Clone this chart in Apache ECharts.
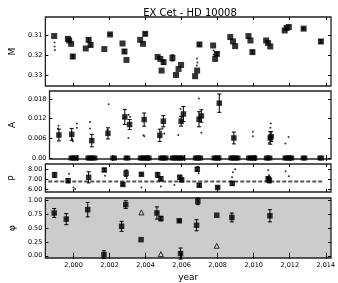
<!DOCTYPE html>
<html>
<head>
<meta charset="utf-8">
<script src="https://cdn.jsdelivr.net/npm/echarts@6/dist/echarts.min.js"></script>
<style>
  html, body { margin: 0; padding: 0; background: #fff; }
  #chart { width: 338px; height: 283px; }
</style>
</head>
<body>
<div id="chart"></div>
<script>
// --- M panel ---
const mYears = [1998.93, 1999.69, 1999.76, 1999.87, 1999.96, 2000.68, 2000.84, 2000.95, 2001.71, 2002.03,
  2002.72, 2002.83, 2002.94, 2003.70, 2003.86, 2003.98, 2004.67, 2004.82, 2004.89, 2005.00,
  2005.49, 2005.69, 2005.83, 2005.97, 2006.75, 2006.86, 2006.99, 2007.75, 2007.86, 2007.96,
  2008.70, 2008.85, 2008.97, 2009.71, 2009.82, 2009.93, 2010.69, 2010.80, 2010.92, 2011.72,
  2011.83, 2011.95, 2012.77, 2013.73];
const mVals = [0.3103, 0.3117, 0.3125, 0.3142, 0.3205, 0.3165, 0.3122, 0.3147, 0.3168, 0.3095,
  0.3140, 0.3180, 0.3222, 0.3122, 0.3142, 0.3092, 0.3207, 0.3217, 0.3275, 0.3233,
  0.3212, 0.3297, 0.3267, 0.3247, 0.3303, 0.3275, 0.3145, 0.3150, 0.3217, 0.3192,
  0.3108, 0.3130, 0.3153, 0.3103, 0.3125, 0.3183, 0.3125, 0.3138, 0.3155, 0.3075,
  0.3063, 0.3058, 0.3066, 0.3130];
const mErr = [0, 0, 0, 0, 0.0008, 0, 0.0008, 0.0010, 0, 0.0005,
  0, 0.0008, 0, 0, 0, 0.0008, 0, 0, 0, 0.0010,
  0.0015, 0, 0, 0, 0, 0, 0.0008, 0, 0, 0.0008,
  0, 0, 0, 0, 0, 0.0008, 0, 0, 0, 0,
  0, 0, 0.0005, 0.0008];
const mDots = [[1998.95, 0.3135], [1998.95, 0.3155], [1998.97, 0.3172], [2006.86, 0.3215],
  [2006.88, 0.3235], [2006.84, 0.3250], [2007.78, 0.3175], [2007.78, 0.3195]];

// --- A panel ---
const aYears = [1998.97, 1999.69, 2000.82, 2001.73, 2002.68, 2002.95, 2003.77, 2004.65, 2004.85,
  2005.85, 2005.98, 2006.86, 2006.99, 2008.00, 2008.82, 2010.87, 2010.92];
const aVals = [0.0070, 0.0072, 0.0053, 0.0075, 0.0125, 0.0102, 0.0117, 0.0069, 0.0112,
  0.0112, 0.0134, 0.0118, 0.0128, 0.0167, 0.0061, 0.0061, 0.0065];
const aErr = [0.0018, 0.0018, 0.0019, 0.0017, 0.0023, 0.0015, 0.0020, 0.0019, 0.0017,
  0.0015, 0.0023, 0.0023, 0.0019, 0.0028, 0.0018, 0.0019, 0.0015];
const aZeroYears = [1999.65, 1999.75, 1999.85, 1999.95, 2000.6, 2000.7, 2000.8, 2000.9, 2001.0,
  2002.0, 2002.1, 2002.75, 2002.85, 2003.55, 2003.65, 2003.75, 2003.85, 2003.95, 2004.05,
  2004.7, 2004.8, 2004.9, 2005.0, 2005.35, 2005.45, 2005.55, 2005.65, 2005.75, 2005.85, 2005.95,
  2006.65, 2006.75, 2006.85, 2006.95, 2007.7, 2007.8, 2007.9, 2007.98,
  2008.65, 2008.75, 2008.85, 2008.95, 2009.05, 2009.65, 2009.75, 2009.85, 2009.95, 2010.0,
  2010.65, 2010.75, 2010.85, 2011.7, 2011.8, 2011.9, 2012.0, 2012.08, 2012.72, 2012.82,
  2013.66, 2013.76];
const aDots = [[1998.95, 0.0098], [1998.92, 0.0090], [1999.75, 0.0051], [1999.72, 0.0058],
  [1999.98, 0.0105], [1999.98, 0.0092], [2000.72, 0.0110], [2000.72, 0.0090], [2001.77, 0.0164],
  [2001.70, 0.0085], [2002.90, 0.0132], [2002.88, 0.0061], [2002.98, 0.0125], [2003.73, 0.0069],
  [2003.78, 0.0066], [2004.80, 0.0090], [2004.90, 0.0075], [2004.72, 0.0080], [2005.82, 0.0149],
  [2005.69, 0.0070], [2005.90, 0.0125], [2006.85, 0.0181], [2006.99, 0.0077], [2009.89, 0.0080],
  [2009.89, 0.0066], [2010.90, 0.0105], [2010.88, 0.0092], [2010.80, 0.0046], [2011.72, 0.0044],
  [2011.90, 0.0064]];

// --- P panel ---
const pYears = [1998.95, 1999.70, 2000.84, 2001.71, 2002.74, 2002.92, 2003.77, 2004.67, 2004.85,
  2005.90, 2006.00, 2006.87, 2006.98, 2008.00, 2008.81, 2010.80, 2010.87];
const pVals = [7.44, 6.87, 7.20, 7.93, 6.50, 7.60, 7.50, 7.44, 7.05,
  7.20, 6.95, 8.00, 6.42, 6.20, 6.60, 7.05, 6.90];
const pErr = [0.25, 0.20, 0.55, 0.15, 0.12, 0.30, 0.10, 0.25, 0.20,
  0.20, 0.15, 0.20, 0.15, 0.10, 0.20, 0.20, 0.25];
const pDots = [[1999.75, 7.55], [2000.0, 6.2], [2000.1, 6.05], [2001.75, 7.35], [2002.95, 7.9],
  [2002.95, 7.1], [2003.77, 6.2], [2004.85, 6.3], [2005.6, 6.45], [2006.9, 8.25], [2006.95, 7.6],
  [2008.8, 7.2], [2008.85, 7.7], [2008.97, 8.0], [2010.8, 7.9], [2010.85, 7.4], [2011.77, 7.8],
  [2011.95, 7.3]];
const pRefLine = [[1998.6, 6.8], [2013.8, 6.8]];

// --- phi panel ---
const phiYears = [1998.93, 1999.60, 2000.79, 2001.69, 2002.67, 2002.90, 2003.75, 2004.63, 2004.85,
  2005.87, 2005.94, 2006.83, 2006.90, 2007.95, 2008.79, 2010.90];
const phiVals = [0.77, 0.66, 0.83, 0.02, 0.53, 0.92, 0.29, 0.77, 0.67,
  0.63, 0.04, 0.55, 0.98, 0.73, 0.69, 0.72];
const phiErr = [0.08, 0.10, 0.13, 0.07, 0.09, 0.07, 0, 0.11, 0.04,
  0.02, 0.10, 0.10, 0.06, 0, 0.08, 0.11];
const triYears = [2003.77, 2004.85, 2007.95];
const triVals = [0.78, 0.03, 0.18];

const yearTicks = [2000, 2002, 2004, 2006, 2008, 2010, 2012, 2014];

const font = 'DejaVu Sans';
const grids = [
  { left: 39, top: 17, width: 292, height: 69 },
  { left: 39, top: 91, width: 292, height: 68 },
  { left: 39, top: 164, width: 292, height: 28 },
  { left: 39, top: 198, width: 292, height: 60, backgroundColor: '#cccccc' }
].map(g => Object.assign({ show: true, borderColor: '#222', borderWidth: 1.3 }, g));

const yDefs = [
  { name: 'M', min: 0.3008, max: 0.3352, inverse: true, ticks: [0.31, 0.32, 0.33], fmt: v => v.toFixed(2) },
  { name: 'A', min: -0.0003, max: 0.0204, ticks: [0, 0.006, 0.012, 0.018], fmt: v => (Math.abs(v) < 1e-9 ? '0.00' : v.toFixed(3)) },
  { name: 'P', min: 5.75, max: 8.52, ticks: [6, 7, 8], fmt: v => v.toFixed(2) },
  { name: 'φ', min: -0.04, max: 1.04, ticks: [0, 0.25, 0.5, 0.75, 1], fmt: v => v.toFixed(2) }
];

const xAxis = [];
const yAxis = [];
yDefs.forEach((d, i) => {
  ['bottom', 'top'].forEach(pos => {
    const labels = pos === 'bottom' && i === 3;
    xAxis.push({
      type: 'value', gridIndex: i, position: pos, min: 1998.44, max: 2014.29,
      name: labels ? 'year' : '', nameLocation: 'middle', nameGap: 15,
      nameTextStyle: { fontFamily: font, fontSize: 9, color: '#000' },
      axisLine: { show: false }, splitLine: { show: false },
      axisTick: { show: true, inside: true, length: 3, customValues: yearTicks, lineStyle: { color: '#000' } },
      axisLabel: { show: labels, customValues: yearTicks, fontFamily: font, fontSize: 6.5, color: '#000', margin: 4 }
    });
  });
  ['left', 'right'].forEach(pos => {
    const labels = pos === 'left';
    yAxis.push({
      type: 'value', gridIndex: i, position: pos, min: d.min, max: d.max, inverse: !!d.inverse,
      name: labels ? d.name : '', nameLocation: 'middle', nameGap: 25,
      nameTextStyle: { fontFamily: font, fontSize: 9, color: '#000' },
      axisLine: { show: false }, splitLine: { show: false },
      axisTick: { show: true, inside: true, length: 3, customValues: d.ticks, lineStyle: { color: '#000' } },
      axisLabel: { show: labels, customValues: d.ticks, formatter: d.fmt, fontFamily: font, fontSize: 6.5, color: '#000', margin: 3 }
    });
  });
});

function pairs(xs, ys) {
  return xs.map((x, k) => [x, ys[k]]);
}

function squares(i, data, size) {
  return {
    type: 'scatter', xAxisIndex: 2 * i, yAxisIndex: 2 * i, symbol: 'rect', symbolSize: size || 5,
    itemStyle: { color: '#000' }, data: data, z: 4
  };
}

function dots(i, data) {
  return {
    type: 'scatter', xAxisIndex: 2 * i, yAxisIndex: 2 * i, symbol: 'circle', symbolSize: 2,
    itemStyle: { color: '#000' }, data: data, z: 3
  };
}

function errorBars(i, xs, vals, errs) {
  const data = xs.map((x, k) => [x, vals[k], errs[k]]).filter(d => d[2] > 0);
  return {
    type: 'custom', xAxisIndex: 2 * i, yAxisIndex: 2 * i, data: data, z: 3,
    renderItem: (params, api) => {
      const x = api.value(0), v = api.value(1), e = api.value(2);
      const hi = api.coord([x, v + e]);
      const lo = api.coord([x, v - e]);
      const w = 2;
      const style = { stroke: '#000', lineWidth: 1 };
      return {
        type: 'group',
        children: [
          { type: 'line', shape: { x1: hi[0], y1: hi[1], x2: lo[0], y2: lo[1] }, style: style },
          { type: 'line', shape: { x1: hi[0] - w, y1: hi[1], x2: hi[0] + w, y2: hi[1] }, style: style },
          { type: 'line', shape: { x1: lo[0] - w, y1: lo[1], x2: lo[0] + w, y2: lo[1] }, style: style }
        ]
      };
    }
  };
}

const chart = echarts.init(document.getElementById('chart'));

const option = {
  animation: false,
  backgroundColor: '#fff',
  title: {
    text: 'EX Cet - HD 10008', left: 185, top: 3, textAlign: 'center',
    textStyle: { fontFamily: font, fontSize: 10, fontWeight: 'normal', color: '#000' }
  },
  grid: grids,
  xAxis: xAxis,
  yAxis: yAxis,
  series: [
    errorBars(0, mYears, mVals, mErr),
    squares(0, pairs(mYears, mVals), 6),
    dots(0, mDots),

    errorBars(1, aYears, aVals, aErr),
    squares(1, pairs(aYears, aVals), 5.5),
    squares(1, aZeroYears.map(x => [x, 0]), 5),
    dots(1, aDots),

    {
      type: 'line', xAxisIndex: 4, yAxisIndex: 4, data: pRefLine, symbol: 'none', z: 2,
      lineStyle: { color: '#555', width: 2, type: [4, 2] }
    },
    errorBars(2, pYears, pVals, pErr),
    squares(2, pairs(pYears, pVals), 5.5),
    dots(2, pDots),

    errorBars(3, phiYears, phiVals, phiErr),
    squares(3, pairs(phiYears, phiVals), 5.5),
    {
      type: 'scatter', xAxisIndex: 6, yAxisIndex: 6, symbol: 'triangle', symbolSize: 5,
      itemStyle: { color: 'rgba(0,0,0,0)', borderColor: '#000', borderWidth: 1 },
      data: pairs(triYears, triVals), z: 4
    }
  ]
};

chart.setOption(option);
</script>
</body>
</html>
